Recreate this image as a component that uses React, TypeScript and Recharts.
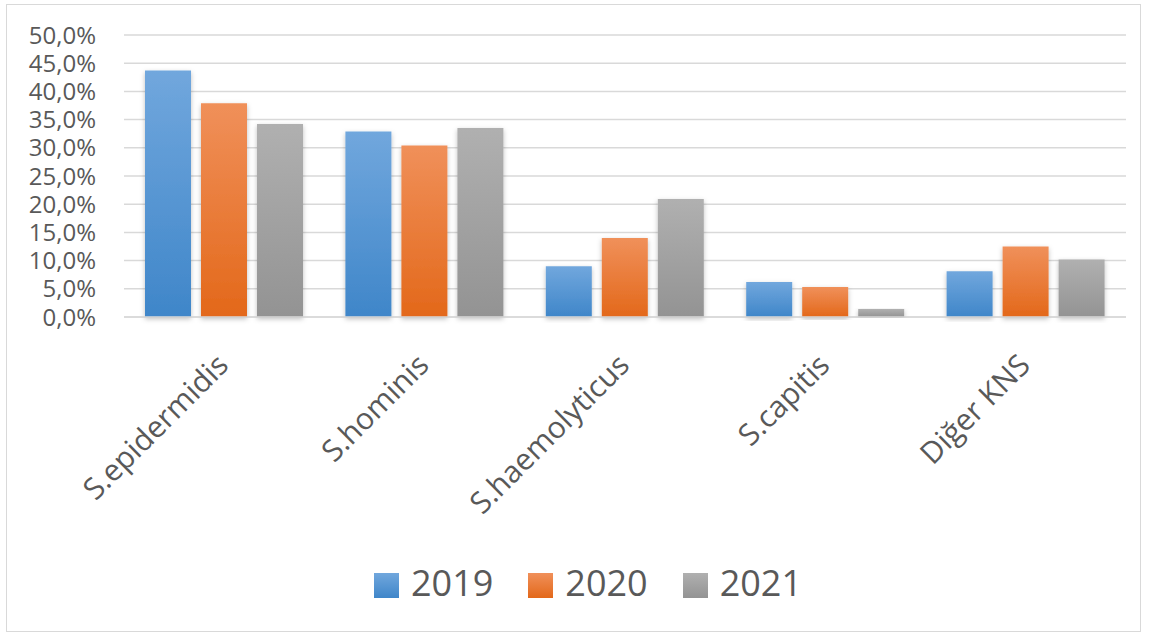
import { BarChart, Bar, XAxis, YAxis, CartesianGrid } from 'recharts';

const categories = ['S.epidermidis', 'S.hominis', 'S.haemolyticus', 'S.capitis', 'Diğer KNS'];
const y2019 = [43.7, 32.9, 9.0, 6.2, 8.1];
const y2020 = [37.9, 30.4, 14.0, 5.3, 12.5];
const y2021 = [34.2, 33.5, 20.9, 1.4, 10.2];
const yTicks = [0, 5, 10, 15, 20, 25, 30, 35, 40, 45, 50];

const series = [
  { key: 'y2019', name: '2019', top: '#71a7dd', bottom: '#3f86c9' },
  { key: 'y2020', name: '2020', top: '#f0905a', bottom: '#e3681a' },
  { key: 'y2021', name: '2021', top: '#b0b0b0', bottom: '#939393' },
];

const data = categories.map((name, i) => ({
  name,
  y2019: y2019[i],
  y2020: y2020[i],
  y2021: y2021[i],
}));

const FONT = '"Open Sans", sans-serif';
const TEXT = '#595959';

const fmt = (v: number) => `${v.toFixed(1).replace('.', ',')}%`;

function XTick({ x, y, payload }: any) {
  const tx = x + 6;
  const ty = y + 42;
  return (
    <text
      x={tx}
      y={ty}
      transform={`rotate(-45, ${tx}, ${ty})`}
      textAnchor="end"
      fill={TEXT}
      fontSize={30}
      fontFamily={FONT}
    >
      {payload.value}
    </text>
  );
}

export default function App() {
  return (
    <div style={{ position: 'absolute', left: 0, top: 0, width: 1149, height: 635, background: '#fff' }}>
      <div
        style={{
          position: 'absolute',
          left: 6,
          top: 4,
          width: 1135,
          height: 628,
          border: '1.5px solid #d9d9d9',
          boxSizing: 'border-box',
        }}
      />
      <div style={{ position: 'absolute', left: 0, top: 0 }}>
        <BarChart
          width={1149}
          height={560}
          data={data}
          margin={{ top: 35, right: 23, left: 0, bottom: 0 }}
          barGap={10}
          barSize={46}
        >
          <defs>
            {series.map((s) => (
              <linearGradient key={s.key} id={`grad-${s.key}`} x1="0" y1="0" x2="0" y2="1">
                <stop offset="0%" stopColor={s.top} />
                <stop offset="100%" stopColor={s.bottom} />
              </linearGradient>
            ))}
            <filter id="shadow" x="-20%" y="-10%" width="140%" height="120%">
              <feDropShadow dx="0" dy="2" stdDeviation="2.5" floodColor="#000" floodOpacity="0.25" />
            </filter>
          </defs>
          <CartesianGrid vertical={false} stroke="#d9d9d9" strokeWidth={1.5} />
          <XAxis
            dataKey="name"
            axisLine={{ stroke: '#d9d9d9', strokeWidth: 1.5 }}
            tickLine={false}
            height={243}
            interval={0}
            tick={<XTick />}
          />
          <YAxis
            domain={[0, 50]}
            ticks={yTicks}
            tickFormatter={fmt}
            axisLine={false}
            tickLine={false}
            tickSize={0}
            tickMargin={28}
            width={124}
            tick={{ fill: TEXT, fontSize: 24, fontFamily: FONT }}
            interval={0}
          />
          {series.map((s) => (
            <Bar
              key={s.key}
              dataKey={s.key}
              name={s.name}
              fill={`url(#grad-${s.key})`}
              filter="url(#shadow)"
              isAnimationActive={false}
            />
          ))}
        </BarChart>
      </div>
      <div
        style={{
          position: 'absolute',
          left: 374,
          top: 565,
          display: 'flex',
          fontFamily: FONT,
          fontSize: 36,
          lineHeight: '36px',
          color: TEXT,
        }}
      >
        {series.map((s) => (
          <div key={s.key} style={{ display: 'flex', alignItems: 'flex-start', marginRight: 35 }}>
            <div
              style={{
                width: 25,
                height: 25,
                marginTop: 8,
                marginRight: 12,
                background: `linear-gradient(${s.top}, ${s.bottom})`,
              }}
            />
            <span>{s.name}</span>
          </div>
        ))}
      </div>
    </div>
  );
}
